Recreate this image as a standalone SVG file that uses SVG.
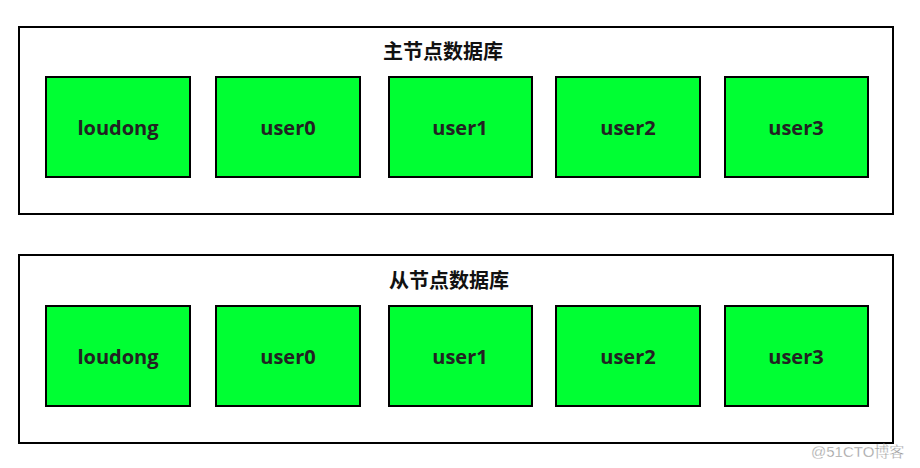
<svg xmlns="http://www.w3.org/2000/svg" width="920" height="468" viewBox="0 0 920 468">
<style>
.c{fill:#fff;stroke:#000;stroke-width:2}
.n{fill:#00ff33;stroke:#000;stroke-width:2}
.t{font-family:"Open Sans","Noto Sans CJK SC",sans-serif;font-size:20px;font-weight:bold;fill:#222;text-anchor:middle;dominant-baseline:central}
.h{font-family:"Noto Sans CJK SC",sans-serif;font-size:20px;font-weight:bold;fill:#111;text-anchor:middle;dominant-baseline:central}
.w{font-family:"Liberation Sans","Noto Sans CJK SC",sans-serif;font-size:15px;fill:#999;stroke:#fff;stroke-width:0.3}
</style>
<g id="master"><rect class="c" x="19" y="27" width="874" height="187"/><text class="h" x="443" y="50">主节点数据库</text></g>
<g id="m-loudong"><rect class="n" x="46" y="77" width="144" height="100"/><text class="t" x="118" y="127">loudong</text></g>
<g id="m-user0"><rect class="n" x="216" y="77" width="144" height="100"/><text class="t" x="288" y="127">user0</text></g>
<g id="m-user1"><rect class="n" x="389" y="77" width="143" height="100"/><text class="t" x="460" y="127">user1</text></g>
<g id="m-user2"><rect class="n" x="556" y="77" width="144" height="100"/><text class="t" x="628" y="127">user2</text></g>
<g id="m-user3"><rect class="n" x="725" y="77" width="143" height="100"/><text class="t" x="796" y="127">user3</text></g>
<g id="slave"><rect class="c" x="19" y="255" width="874" height="188"/><text class="h" x="449" y="279">从节点数据库</text></g>
<g id="s-loudong"><rect class="n" x="46" y="306" width="144" height="100"/><text class="t" x="118" y="356">loudong</text></g>
<g id="s-user0"><rect class="n" x="216" y="306" width="144" height="100"/><text class="t" x="288" y="356">user0</text></g>
<g id="s-user1"><rect class="n" x="389" y="306" width="143" height="100"/><text class="t" x="460" y="356">user1</text></g>
<g id="s-user2"><rect class="n" x="556" y="306" width="144" height="100"/><text class="t" x="628" y="356">user2</text></g>
<g id="s-user3"><rect class="n" x="725" y="306" width="143" height="100"/><text class="t" x="796" y="356">user3</text></g>
<g id="connectors"></g>
<text class="w" x="811" y="457">@51CTO博客</text>
</svg>
